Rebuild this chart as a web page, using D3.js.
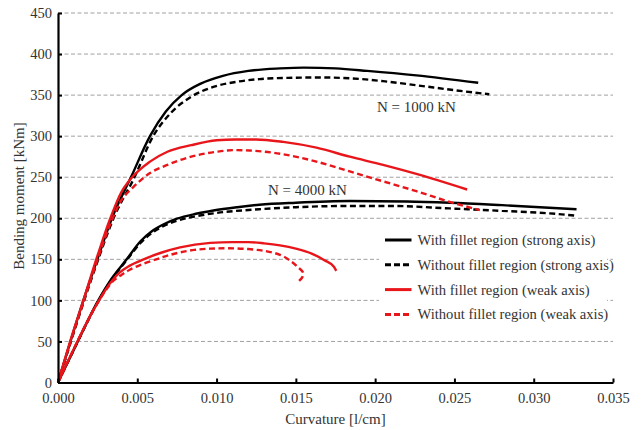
<!DOCTYPE html>
<html>
<head>
<meta charset="utf-8">
<script src="https://cdn.jsdelivr.net/npm/d3@7"></script>
<style>
  html, body { margin: 0; padding: 0; background: #fff; }
</style>
</head>
<body>
<svg id="chart" width="641" height="430"></svg>
<script>
// Moment–curvature curves: [curvature 1/cm, bending moment kNm]
const strongFillet1000 = [[0,0],[0.0008,51],[0.0016,100],[0.0025,151],[0.0034,200],[0.00465,252],[0.0058,300],[0.0068,330],[0.0078,350],[0.0090,364],[0.0104,373.5],[0.012,379.5],[0.014,382.5],[0.0155,383.5],[0.0175,382.5],[0.0195,379.5],[0.0226,374],[0.0265,365]];
const strongNoFillet1000 = [[0,0],[0.0008,49],[0.0016,97],[0.0025,148],[0.0035,200],[0.0048,249],[0.0060,300],[0.0071,328],[0.0084,348],[0.0098,360],[0.0112,366],[0.0127,369.5],[0.0145,371],[0.0165,371.5],[0.0184,370.5],[0.0205,367],[0.0226,362],[0.025,356],[0.0272,351]];
const weakFillet1000 = [[0,0],[0.0008,52],[0.0016,100],[0.0025,155],[0.0033,200],[0.004,232],[0.0045,246],[0.0058,269],[0.0069,281],[0.0084,289],[0.0100,295],[0.0112,296],[0.0125,296],[0.0142,293],[0.0163,286],[0.0184,275],[0.0205,265],[0.0226,254],[0.0258,235]];
const weakNoFillet1000 = [[0,0],[0.0008,50],[0.0016,98],[0.0025,150],[0.0033,193],[0.004,222],[0.0047,237],[0.0058,255],[0.0069,265],[0.0084,275],[0.0100,281],[0.0111,283],[0.0121,282.5],[0.0142,278],[0.0163,269],[0.0184,257],[0.0205,245],[0.0226,233],[0.0247,220],[0.0266,210]];

const strongFillet4000 = [[0,0],[0.001,40],[0.00254,100],[0.0034,127],[0.00433,150],[0.0052,172],[0.0059,184],[0.0067,193],[0.0075,199.5],[0.0087,205.5],[0.0098,209.5],[0.0113,213.5],[0.0127,216.5],[0.015,219],[0.0184,221],[0.022,220.5],[0.0247,219],[0.028,216],[0.0327,211]];
const strongNoFillet4000 = [[0,0],[0.001,40],[0.00254,99],[0.0034,126],[0.00433,149],[0.0052,170],[0.0059,182],[0.0067,191],[0.0075,197],[0.0087,202.5],[0.0098,206],[0.0127,211],[0.015,213.5],[0.0184,215],[0.021,215],[0.0247,212],[0.028,209],[0.031,206],[0.03275,203]];
const weakFillet4000 = [[0,0],[0.001,41],[0.002,80],[0.0025,97],[0.003,113],[0.0035,126],[0.0039,134],[0.0045,142],[0.0054,150],[0.0065,158],[0.0077,164.5],[0.0096,170],[0.011,171],[0.012,171],[0.013,169.5],[0.014,167],[0.015,163],[0.016,157],[0.0168,149],[0.0174,141],[0.01755,136]];
const weakNoFillet4000 = [[0,0],[0.001,41],[0.002,80],[0.0025,97],[0.003,112],[0.0035,124],[0.004,131],[0.0045,137],[0.0053,144],[0.0062,150],[0.0069,154.5],[0.0077,158.5],[0.0086,161.5],[0.0096,163],[0.0107,163.5],[0.012,162.5],[0.0131,160],[0.014,155.5],[0.0146,149],[0.0151,141],[0.01545,134],[0.0154,128],[0.0151,122]];

const xTicks = [0, 0.005, 0.010, 0.015, 0.020, 0.025, 0.030, 0.035];
const yTicks = [0, 50, 100, 150, 200, 250, 300, 350, 400, 450];

const legendLabels = [
  "With fillet region (strong axis)",
  "Without fillet region (strong axis)",
  "With fillet region (weak axis)",
  "Without fillet region (weak axis)"
];

const FONT = '"Liberation Serif", "Times New Roman", serif';
const TEXT_COLOR = "#333";
const RED = "#e8161b";

const svg = d3.select("#chart");
const plotLeft = 58, plotRight = 613, plotTop = 13, plotBottom = 382.5;

const x = d3.scaleLinear().domain([0, 0.035]).range([plotLeft, plotRight]);
const y = d3.scaleLinear().domain([0, 450]).range([plotBottom, plotTop]);

// horizontal dashed gridlines
svg.append("g").selectAll("line").data(yTicks.filter(d => d > 0)).join("line")
  .attr("x1", plotLeft).attr("x2", plotRight)
  .attr("y1", d => y(d)).attr("y2", d => y(d))
  .attr("stroke", "#a0a0a0").attr("stroke-width", 1)
  .attr("stroke-dasharray", "4,2.5");

// monotone interpolation for curves that only move right; Catmull–Rom for the one that turns back
const smoothLine = d3.line().x(d => x(d[0])).y(d => y(d[1])).curve(d3.curveMonotoneX);
const loopLine = d3.line().x(d => x(d[0])).y(d => y(d[1])).curve(d3.curveCatmullRom.alpha(0.5));

const DASH = "6,3.5";
const series = [
  { data: strongFillet1000, color: "#000", dash: null },
  { data: strongNoFillet1000, color: "#000", dash: DASH },
  { data: strongFillet4000, color: "#000", dash: null },
  { data: strongNoFillet4000, color: "#000", dash: DASH },
  { data: weakNoFillet1000, color: RED, dash: DASH },
  { data: weakFillet1000, color: RED, dash: null },
  { data: weakNoFillet4000, color: RED, dash: DASH, loop: true },
  { data: weakFillet4000, color: RED, dash: null }
];

svg.append("g").selectAll("path").data(series).join("path")
  .attr("d", d => (d.loop ? loopLine : smoothLine)(d.data))
  .attr("fill", "none")
  .attr("stroke", d => d.color)
  .attr("stroke-width", 2.4)
  .attr("stroke-dasharray", d => d.dash);

// axes
const xAxis = d3.axisBottom(x).tickValues(xTicks).tickFormat(d3.format(".3f")).tickSizeInner(-4).tickSizeOuter(0).tickPadding(10);
const yAxis = d3.axisLeft(y).tickValues(yTicks).tickSizeInner(-4).tickSizeOuter(0).tickPadding(6);

const gx = svg.append("g").attr("transform", `translate(0,${plotBottom})`).call(xAxis);
const gy = svg.append("g").attr("transform", `translate(${plotLeft},0)`).call(yAxis);
[gx, gy].forEach(g => {
  g.select(".domain").attr("stroke", "#000").attr("stroke-width", 2.2);
  g.selectAll(".tick line").attr("stroke", "#000").attr("stroke-width", 2);
  g.selectAll(".tick text")
    .style("font-family", FONT).style("font-size", "14.5px").style("fill", TEXT_COLOR);
});
gx.selectAll(".tick text").attr("dy", "0.71em");

function label(sel, size) {
  return sel.style("font-family", FONT).style("font-size", (size || 15) + "px").style("fill", TEXT_COLOR);
}

// axis titles
label(svg.append("text").attr("x", x(0.0175)).attr("y", 424)
  .attr("text-anchor", "middle").text("Curvature [l/cm]"));
label(svg.append("text").attr("transform", `translate(24,196) rotate(-90)`)
  .attr("text-anchor", "middle").text("Bending moment [kNm]"));

// load annotations
label(svg.append("text").attr("x", 377).attr("y", 112).text("N = 1000 kN"));
label(svg.append("text").attr("x", 268).attr("y", 195).text("N = 4000 kN"));

// legend
const lg = svg.append("g");
lg.append("rect").attr("x", 379).attr("y", 227).attr("width", 228).attr("height", 106).attr("fill", "#fff");
const items = lg.selectAll("g.item").data(legendLabels).join("g").attr("class", "item")
  .attr("transform", (d, i) => `translate(385,${240 + i * 24.8})`);
items.append("line").attr("x1", 0).attr("x2", 26.5).attr("y1", 0).attr("y2", 0)
  .attr("stroke", (d, i) => i < 2 ? "#000" : RED)
  .attr("stroke-width", 3)
  .attr("stroke-dasharray", (d, i) => i % 2 ? "6,3" : null);
label(items.append("text").attr("x", 32.5).attr("y", 5).text(d => d), 14.6);
</script>
</body>
</html>
